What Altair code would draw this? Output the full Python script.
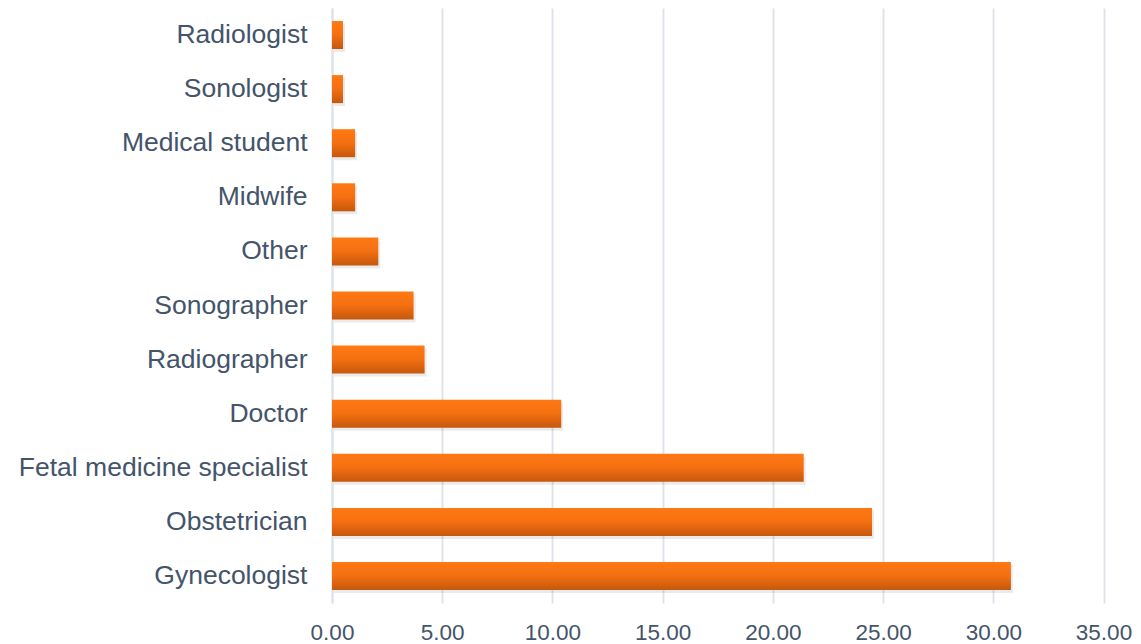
import altair as alt
import pandas as pd

categories = ["Radiologist", "Sonologist", "Medical student", "Midwife", "Other",
              "Sonographer", "Radiographer", "Doctor", "Fetal medicine specialist",
              "Obstetrician", "Gynecologist"]
values = [0.5, 0.5, 1.05, 1.05, 2.1, 3.7, 4.2, 10.4, 21.4, 24.5, 30.8]
x_ticks = [0, 5, 10, 15, 20, 25, 30, 35]

df = pd.DataFrame({"role": categories, "pct": values})

text_color = "#44546A"
grid_color = "#DDE1E8"

y_enc = alt.Y("role:N", sort=categories, title=None,
              scale=alt.Scale(paddingInner=0.482, paddingOuter=0.24),
              axis=alt.Axis(labelFontSize=26.5, labelColor=text_color, labelFont="Liberation Sans",
                            ticks=False, domain=True, domainColor=grid_color, domainWidth=2,
                            labelPadding=25, minExtent=324, maxExtent=324, labelLimit=400))
x_enc = alt.X("pct:Q", title=None,
              scale=alt.Scale(domain=[0, 35], nice=False),
              axis=alt.Axis(values=x_ticks, format=".2f", labelFontSize=22.5, labelColor=text_color,
                            labelFont="Liberation Sans", ticks=False, domain=False,
                            grid=True, gridColor=grid_color, gridWidth=1.8,
                            labelPadding=18, labelFlush=False))

shadow = alt.Chart(df).mark_bar(color="#000000", opacity=0.08, xOffset=2, yOffset=3).encode(
    x=x_enc, y=y_enc)

bars = alt.Chart(df).mark_bar(
    color=alt.Gradient(
        gradient="linear",
        stops=[alt.GradientStop(color="#FF7A14", offset=0),
               alt.GradientStop(color="#F46F10", offset=0.5),
               alt.GradientStop(color="#C5580E", offset=1)],
        x1=0, x2=0, y1=0, y2=1)
).encode(x=x_enc, y=y_enc)

chart = alt.layer(shadow, bars).properties(
    width=771.5, height=595,
    autosize=alt.AutoSizeParams(type="none"),
    padding={"left": 324, "top": 0, "right": 29.5, "bottom": 42},
    background="white"
).configure_view(stroke=None)

chart.save("out.html", embed_options={"renderer": "svg", "actions": False})
